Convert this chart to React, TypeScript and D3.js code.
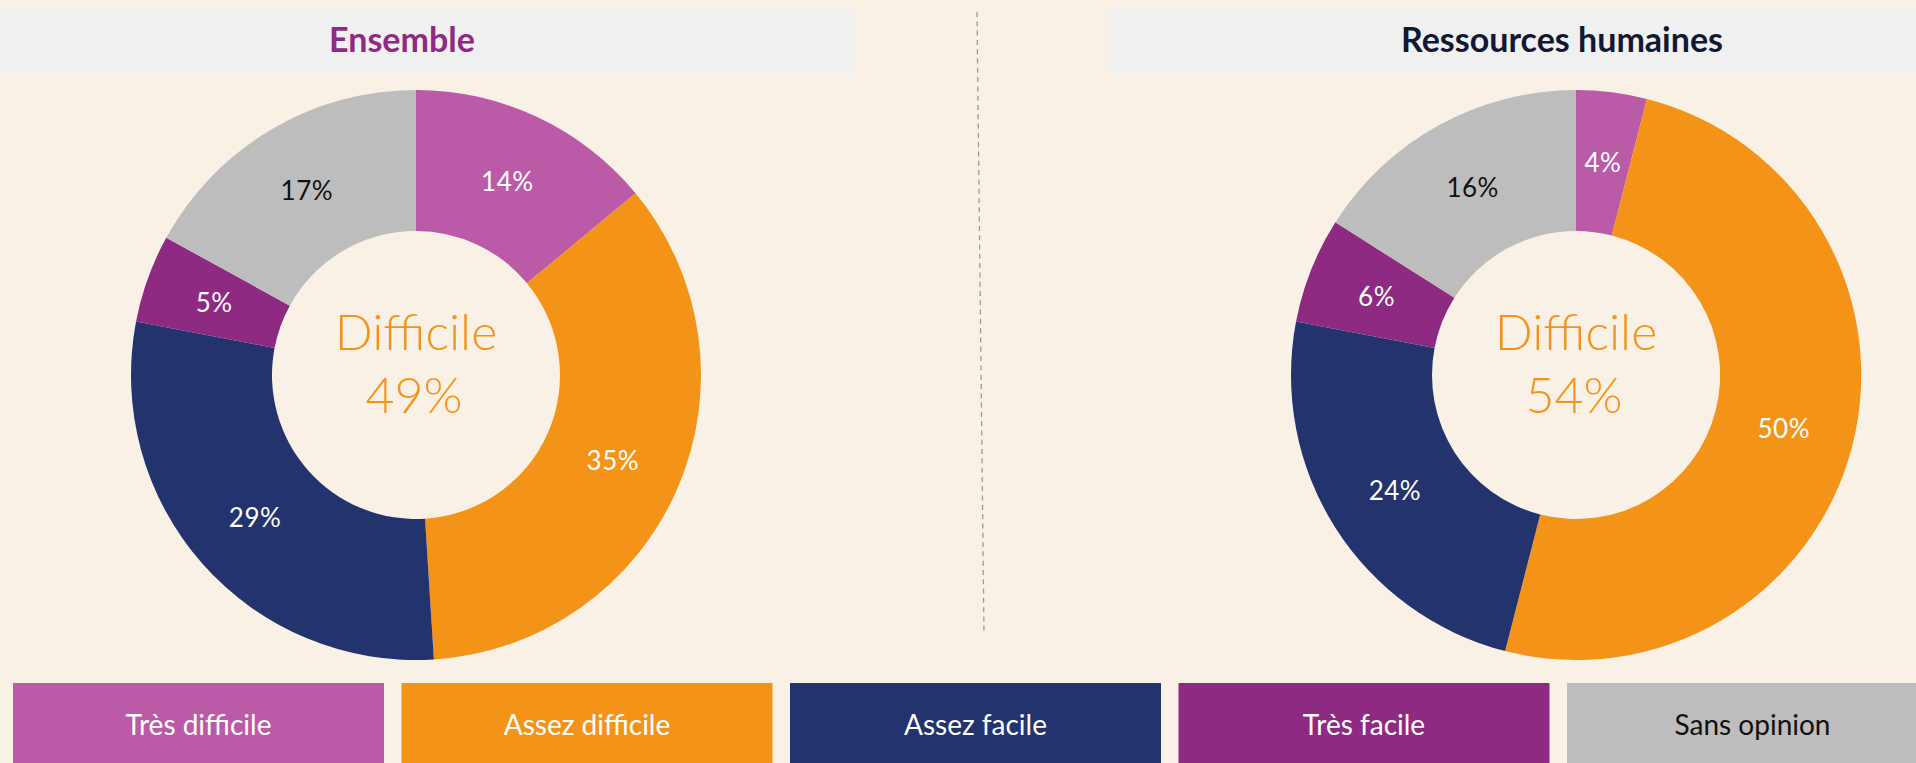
import React from "react";
import * as d3 from "d3";

const categories = ["Très difficile", "Assez difficile", "Assez facile", "Très facile", "Sans opinion"];
const colors = ["#BB5BA8", "#F39419", "#23336E", "#8E2A82", "#BDBDBD"];
const labelColors = ["#FFFFFF", "#FFFFFF", "#FFFFFF", "#FFFFFF", "#111111"];
const ensembleValues = [14, 35, 29, 5, 17];
const rhValues = [4, 50, 24, 6, 16];
const panels = [
  { title: "Ensemble", titleColor: "#8E2A82", values: ensembleValues, centerLabel: "Difficile", centerValue: "49%" },
  { title: "Ressources humaines", titleColor: "#111833", values: rhValues, centerLabel: "Difficile", centerValue: "54%" },
];

const W = 1916;
const H = 763;
const FONT = "Lato, 'Open Sans', sans-serif";

function Donut({ cx, cy, values }: { cx: number; cy: number; values: number[] }) {
  const pie = d3.pie<number>().sort(null).value((d) => d).startAngle(0).endAngle(2 * Math.PI);
  const arc = d3.arc<d3.PieArcDatum<number>>().innerRadius(144).outerRadius(285);
  const arcs = pie(values);
  return (
    <g transform={`translate(${cx},${cy})`}>
      {arcs.map((a, i) => (
        <path key={i} d={arc(a) || ""} fill={colors[i]} />
      ))}
      {arcs.map((a, i) => {
        const [x, y] = arc.centroid(a);
        return (
          <text
            key={"t" + i}
            x={x}
            y={y}
            textAnchor="middle"
            dominantBaseline="central"
            fontFamily={FONT}
            fontSize={26}
            letterSpacing={0.5}
            fill={labelColors[i]}
          >
            {values[i]}%
          </text>
        );
      })}
    </g>
  );
}

export default function App() {
  const centers = [
    { cx: 416, cy: 375 },
    { cx: 1576, cy: 375 },
  ];
  const bars = [
    { x: 0, w: 854 },
    { x: 1110, w: 806 },
  ];
  const titleX = [402, 1562];
  const legendX = d3
    .scaleBand<string>()
    .domain(categories)
    .range([13, 13 + 388.5 * 4 + 371])
    .paddingInner(17.5 / 388.5)
    .paddingOuter(0);
  return (
    <svg width={W} height={H} style={{ position: "fixed", left: 0, top: 0, display: "block" }}>
      <rect x={0} y={0} width={W} height={H} fill="#FAF1E6" />
      {panels.map((p, i) => (
        <g key={i}>
          <rect x={bars[i].x} y={8} width={bars[i].w} height={65} fill="#F0F0F0" />
          <text
            x={titleX[i]}
            y={52}
            textAnchor="middle"
            fontFamily={FONT}
            fontWeight={700}
            fontSize={34}
            fill={p.titleColor}
          >
            {p.title}
          </text>
          <Donut cx={centers[i].cx} cy={centers[i].cy} values={p.values} />
          <text x={centers[i].cx} y={350} textAnchor="middle" fontFamily={FONT} fontWeight={300} fontSize={50} fill="#F39419">
            {p.centerLabel}
          </text>
          <text x={centers[i].cx - 2} y={413} textAnchor="middle" fontFamily={FONT} fontWeight={300} fontSize={50} fill="#F39419">
            {p.centerValue}
          </text>
        </g>
      ))}
      <line x1={977} x2={984} y1={12} y2={634} stroke="#9A9A9A" strokeWidth={1.3} strokeDasharray="5,4.3" />
      {categories.map((c, i) => {
        const x = legendX(c) || 0;
        const w = legendX.bandwidth();
        return (
          <g key={c}>
            <rect x={x} y={683} width={w} height={90} fill={colors[i]} />
            <text
              x={x + w / 2}
              y={735}
              textAnchor="middle"
              fontFamily={FONT}
              fontSize={28}
              fill={labelColors[i]}
            >
              {c}
            </text>
          </g>
        );
      })}
    </svg>
  );
}
